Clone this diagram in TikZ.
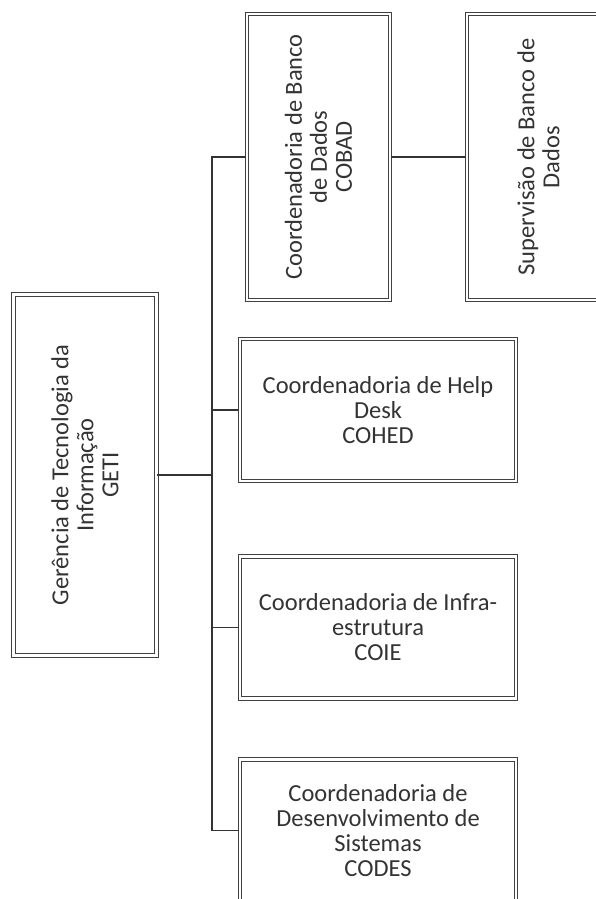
\documentclass[tikz,border=0pt]{standalone}
\usepackage{fontspec}
\setmainfont{Carlito}

\begin{document}
\begin{tikzpicture}
				[x=1pt, y=1pt,
				box/.style = {draw=black!75, double=white, double distance=2.2pt,
				line width=1.2pt, align=center, text=black!80, inner sep=0pt,
				font=\fontsize{24.5}{25}\selectfont},
				hbox/.style = {box, minimum width=276, minimum height=142},
				vbox/.style = {box, rotate=90, minimum height=143},
				line width=1.4pt, draw=black!80]
				\useasboundingbox (0,0) rectangle (596,-899);
				\node[vbox, minimum width=361] (geti) at (85, -475) {Gerência de Tecnologia da\\Informação\\GETI};
				\node[vbox, minimum width=286] (cobad) at (318.5, -157) {Coordenadoria de Banco\\de Dados\\COBAD};
				\node[vbox, minimum width=286] (superv) at (538.5, -157) {Supervisão de Banco de\\Dados};
				\node[hbox] (cohed) at (378, -410) {Coordenadoria de Help\\Desk\\COHED};
				\node[hbox] (coie) at (378, -627.5) {Coordenadoria de Infra-\\estrutura\\COIE};
				\node[hbox] (codes) at (378, -830.5) {Coordenadoria de\\Desenvolvimento de\\Sistemas\\CODES};
				\coordinate (bus) at (212, -475);
				\draw (geti.south) -- (bus);
				\draw (cobad.north) -| (bus);
				\draw (codes.west) -| (bus);
				\draw (cohed.west) -- (cohed.west -| bus);
				\draw (coie.west) -- (coie.west -| bus);
				\draw (cobad.south) -- (superv.north);
			\end{tikzpicture}
\end{document}
